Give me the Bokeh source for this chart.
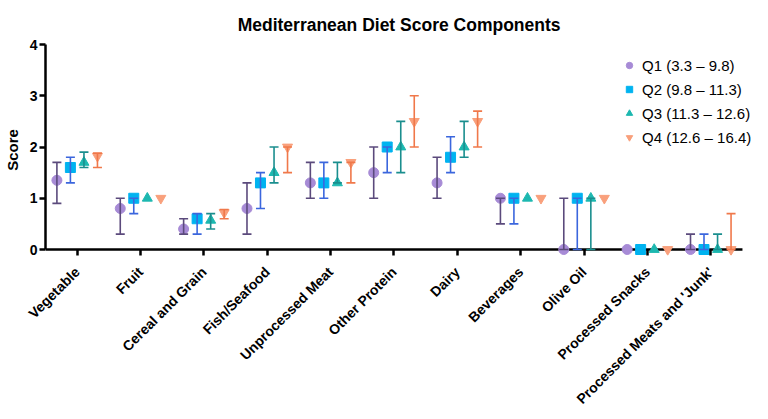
import math
from bokeh.plotting import figure
from bokeh.models import (ColumnDataSource, Whisker, TeeHead, FixedTicker, Range1d,
                          Legend, LegendItem)
from bokeh.embed import file_html
from bokeh.resources import INLINE

categories = ["Vegetable", "Fruit", "Cereal and Grain", "Fish/Seafood", "Unprocessed Meat",
              "Other Protein", "Dairy", "Beverages", "Olive Oil", "Processed Snacks",
              "Processed Meats and 'Junk'"]

series_names = ["Q1 (3.3 \u2013 9.8)", "Q2 (9.8 \u2013 11.3)",
                "Q3 (11.3 \u2013 12.6)", "Q4 (12.6 \u2013 16.4)"]

q1_med = [1.35, 0.8, 0.4, 0.8, 1.3, 1.5, 1.3, 1.0, 0.0, 0.0, 0.0]
q1_low = [0.9, 0.3, 0.3, 0.3, 1.0, 1.0, 1.0, 0.5, 0.0, 0.0, 0.0]
q1_high = [1.7, 1.0, 0.6, 1.3, 1.7, 2.0, 1.8, 1.0, 1.0, 0.0, 0.3]

q2_med = [1.6, 1.0, 0.6, 1.3, 1.3, 2.0, 1.8, 1.0, 1.0, 0.0, 0.0]
q2_low = [1.3, 0.7, 0.3, 0.8, 1.0, 1.5, 1.5, 0.5, 0.0, 0.0, 0.0]
q2_high = [1.8, 1.0, 0.7, 1.5, 1.7, 2.0, 2.2, 1.0, 1.0, 0.0, 0.3]

q3_med = [1.7, 1.0, 0.57, 1.5, 1.3, 2.0, 2.0, 1.0, 1.0, 0.0, 0.0]
q3_low = [1.6, 1.0, 0.4, 1.3, 1.3, 1.5, 1.8, 1.0, 0.0, 0.0, 0.0]
q3_high = [1.9, 1.0, 0.7, 2.0, 1.7, 2.5, 2.5, 1.0, 1.0, 0.0, 0.3]

q4_med = [1.82, 1.0, 0.72, 2.0, 1.7, 2.5, 2.5, 1.0, 1.0, 0.0, 0.0]
q4_low = [1.6, 1.0, 0.6, 1.5, 1.3, 2.0, 2.0, 1.0, 1.0, 0.0, 0.0]
q4_high = [1.88, 1.0, 0.78, 2.0, 1.7, 3.0, 2.7, 1.0, 1.0, 0.0, 0.7]

y_ticks = [0, 1, 2, 3, 4]

FONT = "Liberation Sans"
PX_PER_CAT = 63.36
PX_PER_UNIT = 51.25
FRAME_W = 712
FRAME_H = 211

n = len(categories)
p = figure(frame_width=FRAME_W, frame_height=FRAME_H,
           min_border_left=37, min_border_right=3, min_border_top=44, min_border_bottom=146,
           output_backend="svg", toolbar_location=None,
           x_range=Range1d(-0.5, -0.5 + FRAME_W / PX_PER_CAT),
           y_range=Range1d(-6 / PX_PER_UNIT, 4))
p.outline_line_color = None
p.grid.visible = False
p.background_fill_color = "white"

p.title.text = "Mediterranean Diet  Score Components"
p.title.align = "center"
p.title.text_font = FONT
p.title.text_font_size = "17.5px"
p.title.text_font_style = "bold"
p.title.text_color = "black"
p.title.standoff = 20
p.title.offset = -7

# x axis baseline at y = 0 spanning the category range
p.segment(x0=[-0.5], y0=[0], x1=[n - 0.5], y1=[0], line_color="black", line_width=2.5)

series = [
    (q1_med, q1_low, q1_high, "circle", "#A78BD6", "#5B4A7C", -0.32),
    (q2_med, q2_low, q2_high, "square", "#00B3F0", "#3B66DD", -0.107),
    (q3_med, q3_low, q3_high, "triangle", "#1DB8B0", "#1A8E8E", 0.107),
    (q4_med, q4_low, q4_high, "inverted_triangle", "#F9A07C", "#F0784A", 0.32),
]

items = []
for (med, low, high, marker, mcol, ecol, off), name in zip(series, series_names):
    xs = [i + off for i in range(n)]
    keep = [k for k in range(n) if high[k] > low[k]]
    wsrc = ColumnDataSource(dict(x=[xs[k] for k in keep],
                                 lower=[low[k] for k in keep],
                                 upper=[high[k] for k in keep]))
    w = Whisker(base="x", lower="lower", upper="upper", source=wsrc, dimension="height",
                line_color=ecol, line_width=1.6, level="glyph",
                upper_head=TeeHead(size=9, line_color=ecol, line_width=1.6),
                lower_head=TeeHead(size=9, line_color=ecol, line_width=1.6))
    p.add_layout(w)
    src = ColumnDataSource(dict(x=xs, y=med))
    r = p.scatter("x", "y", source=src, marker=marker, size=10,
                  fill_color=mcol, line_color=mcol)
    items.append(LegendItem(label=name, renderers=[r]))

legend = Legend(items=items, location=(576, 108), padding=0, margin=0,
                glyph_width=16, glyph_height=20, label_height=20, spacing=4,
                label_standoff=5, border_line_color=None, background_fill_alpha=0,
                label_text_font=FONT, label_text_font_size="15px", label_text_color="black")
p.add_layout(legend, "center")

xa = p.xaxis[0]
xa.ticker = FixedTicker(ticks=list(range(n)))
xa.major_label_overrides = {i: c for i, c in enumerate(categories)}
xa.major_label_orientation = math.pi / 4
xa.axis_line_color = None
xa.major_tick_line_width = 2.5
xa.major_tick_line_color = "black"
xa.major_tick_out = 0
xa.major_tick_in = 6
xa.minor_tick_line_color = None
xa.major_label_text_font = FONT
xa.major_label_text_font_size = "14px"
xa.major_label_text_font_style = "bold"
xa.major_label_text_color = "black"
xa.major_label_standoff = 14

ya = p.yaxis[0]
ya.bounds = (0, 4)
ya.ticker = FixedTicker(ticks=y_ticks)
ya.axis_label = "Score"
ya.axis_label_text_font = FONT
ya.axis_label_text_font_size = "15px"
ya.axis_label_text_font_style = "bold"
ya.axis_label_text_color = "black"
ya.axis_label_standoff = 6
ya.axis_line_width = 2.5
ya.axis_line_color = "black"
ya.major_tick_line_width = 2.5
ya.major_tick_out = 6
ya.major_tick_in = 0
ya.minor_tick_line_color = None
ya.major_label_text_font = FONT
ya.major_label_text_font_size = "14px"
ya.major_label_text_font_style = "bold"
ya.major_label_text_color = "black"
ya.major_label_standoff = 2

open("out.html", "w").write(file_html(p, INLINE))
